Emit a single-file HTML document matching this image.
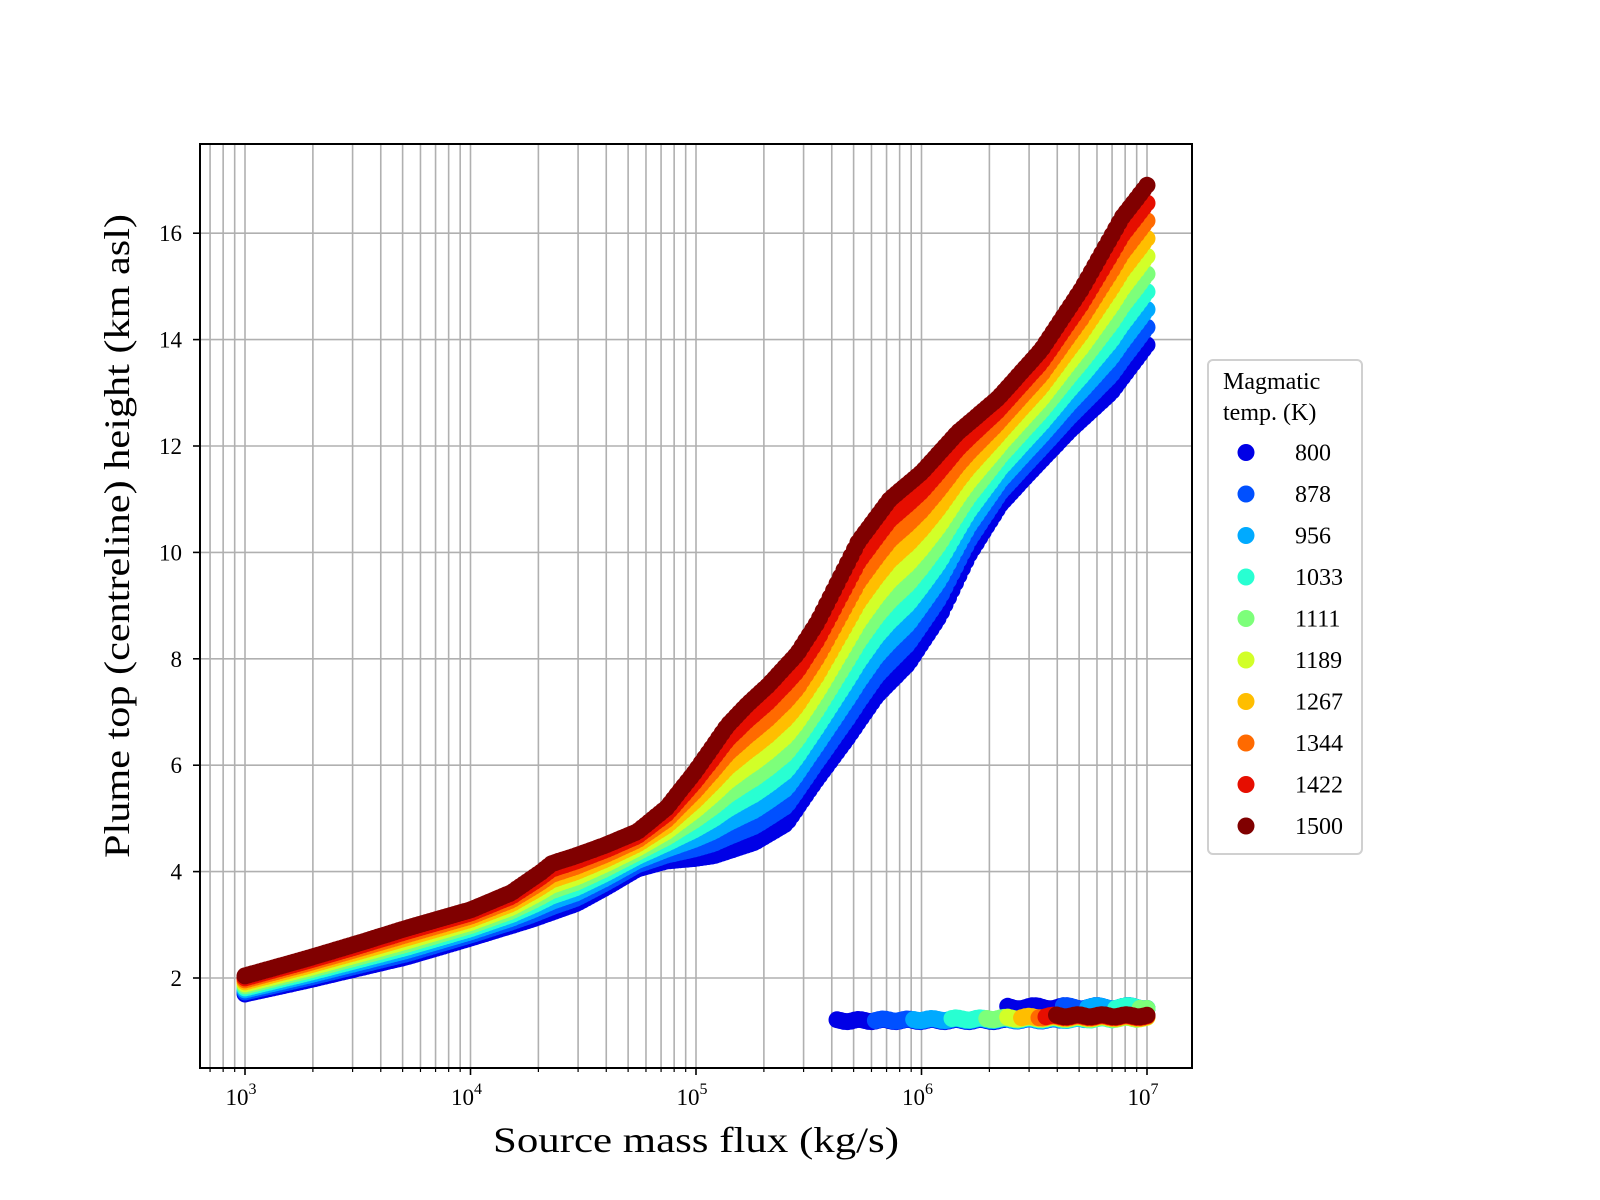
<!DOCTYPE html>
<html><head><meta charset="utf-8"><style>
html,body{margin:0;padding:0;background:#fff;}
svg{display:block;font-family:"Liberation Serif","DejaVu Serif",serif;}
</style></head><body>
<svg id="s" width="1600" height="1200" viewBox="0 0 1600 1200" xmlns="http://www.w3.org/2000/svg">
<rect width="1600" height="1200" fill="#fff"/>
<g id="grid"></g>
<g id="data"></g>
<rect x="200" y="144" width="992" height="924" fill="none" stroke="#000" stroke-width="2"/>
<g id="ticks"></g>
<text x="696" y="1152" font-size="36" text-anchor="middle" textLength="406" lengthAdjust="spacingAndGlyphs">Source mass flux (kg/s)</text>
<text transform="translate(129,536) rotate(-90)" font-size="36" text-anchor="middle" textLength="644" lengthAdjust="spacingAndGlyphs">Plume top (centreline) height (km asl)</text>
<g id="legend"></g>
</svg>
<script>
const NS="http://www.w3.org/2000/svg";
function el(p,t,a,txt){const e=document.createElementNS(NS,t);for(const k in a)e.setAttribute(k,a[k]);if(txt!==undefined)e.textContent=txt;p.appendChild(e);return e;}
const X=lx=>245+(lx-3)*225.5, Y=h=>978-(h-2)*53.2;
const grid=document.getElementById('grid'),ticks=document.getElementById('ticks'),data=document.getElementById('data'),leg=document.getElementById('legend');
for(let d=2;d<=7;d++)for(let k=1;k<=9;k++){const lx=d+Math.log10(k);if(lx<2.8||lx>7.2)continue;const x=X(lx);
 el(grid,'line',{x1:x,x2:x,y1:144,y2:1068,stroke:'#b0b0b0','stroke-width':1.6});
 el(ticks,'line',{x1:x,x2:x,y1:1068,y2:1068+(k==1?7:4),stroke:'#000','stroke-width':k==1?1.6:1.2});
 if(k==1){const t=el(ticks,'text',{x:x-4,y:1105,'font-size':23,'text-anchor':'middle'},'10');el(t,'tspan',{dy:-11,'font-size':16},String(d));}
}
for(let v=2;v<=16;v+=2){const y=Y(v);
 el(grid,'line',{x1:200,x2:1192,y1:y,y2:y,stroke:'#b0b0b0','stroke-width':1.6});
 el(ticks,'line',{x1:193,x2:200,y1:y,y2:y,stroke:'#000','stroke-width':1.6});
 el(ticks,'text',{x:182,y:y+8,'font-size':23,'text-anchor':'end'},String(v));}
const cols=['#0000e6','#0050ff','#00aaff','#28ffd2','#7dff7a','#d2ff28','#ffbe00','#ff6a00','#e60e00','#800000'];
const temps=[800,878,956,1033,1111,1189,1267,1344,1422,1500];
const top_=[[3,2.04],[3.27,2.36],[3.5,2.65],[3.72,2.94],[4,3.28],[4.18,3.6],[4.31,3.98],[4.36,4.15],[4.47,4.3],[4.6,4.5],[4.74,4.75],[4.87,5.2],[5.0,5.9],[5.14,6.75],[5.23,7.15],[5.32,7.5],[5.45,8.1],[5.54,8.7],[5.63,9.45],[5.72,10.2],[5.86,11.0],[6.0,11.5],[6.16,12.25],[6.34,12.9],[6.53,13.8],[6.71,14.95],[6.89,16.3],[7,16.9]];
const bot=[[3,1.7],[3.27,1.95],[3.72,2.4],[4,2.75],[4.27,3.1],[4.47,3.4],[4.6,3.7],[4.74,4.05],[4.87,4.2],[5.0,4.25],[5.08,4.3],[5.26,4.55],[5.4,4.9],[5.53,5.7],[5.67,6.5],[5.8,7.3],[5.94,7.9],[6.08,8.8],[6.21,9.95],[6.35,10.9],[6.48,11.5],[6.66,12.3],[6.84,13.0],[7,13.9]];
function interp(tab,x){for(let i=0;i<tab.length-1;i++){if(x<=tab[i+1][0]){const a=tab[i],b=tab[i+1];return a[1]+(b[1]-a[1])*(x-a[0])/(b[0]-a[0]);}}return tab[tab.length-1][1];}
const R=8.5,N=260;
const vx=v=>3+(v-240)/221;
const starts=[818,855,895,930,965,985,1000,1015,1025,1035].map(vx);
const jumps=[985,1040,1065,1090,1115].map(vx);
for(let i=0;i<10;i++){const t=i/9;
 for(let j=0;j<N;j++){const lx=3+4*j/(N-1);const h=interp(bot,lx)+(interp(top_,lx)-interp(bot,lx))*t;
  el(data,'circle',{cx:X(lx).toFixed(1),cy:Y(h).toFixed(1),r:R,fill:cols[i]});}
 for(let j=0;j<N;j++){const lx=3+4*j/(N-1);if(lx<starts[i])continue;
  let h=1.2+0.02*Math.sin(j*0.9)+0.01*i;
  if(i<5&&lx>=jumps[i])h=1.45+0.03*Math.sin(j*0.7);
  el(data,'circle',{cx:X(lx).toFixed(1),cy:Y(h).toFixed(1),r:R,fill:cols[i]});}
}
el(leg,'rect',{x:1208,y:360,width:154,height:494,rx:5,fill:'#fff',stroke:'#d0d0d0','stroke-width':2});
el(leg,'text',{x:1223,y:389,'font-size':24},'Magmatic');
el(leg,'text',{x:1223,y:420,'font-size':24},'temp. (K)');
for(let i=0;i<10;i++){const y=452.5+41.5*i;
 el(leg,'circle',{cx:1246,cy:y,r:8.5,fill:cols[i]});
 el(leg,'text',{x:1295,y:y+8,'font-size':24},String(temps[i]));}
</script>
</body></html>
